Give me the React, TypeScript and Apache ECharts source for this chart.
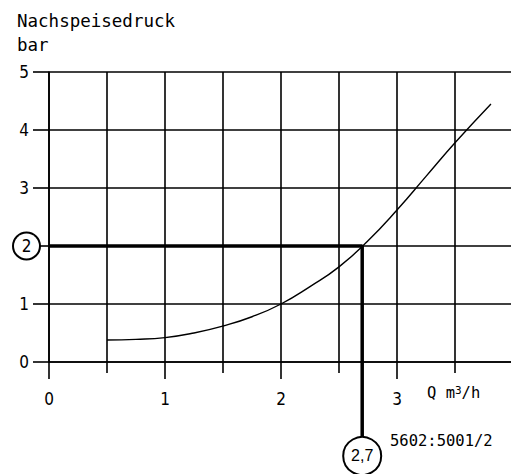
import React, { useEffect, useRef } from "react";
import * as echarts from "echarts";

// Curve: Nachspeisedruck (bar) over flow Q (m³/h)
const flowQ = [0.5, 0.75, 1, 1.25, 1.5, 1.75, 2, 2.25, 2.5, 2.75, 3, 3.25, 3.5, 3.81];
const pressure = [0.38, 0.39, 0.42, 0.5, 0.62, 0.78, 1.0, 1.3, 1.64, 2.09, 2.62, 3.2, 3.78, 4.45];

// Operating point
const opQ = 2.7;
const opP = 2;
const opLabel = "2,7";
const opCircleP = -1.62; // level of the "2,7" marker below the axis
const opStartQ = 0;

const xTicks = [0, 4];
const xLabelsShown = [0, 1, 2, 3];
const yTicks = [0, 5];
const titleLines = ["Nachspeisedruck", "bar"];
const drawingNo = "5602:5001/2";

const tickFont = "'Liberation Sans Narrow', 'DejaVu Sans Condensed', sans-serif";
const monoFont = "'DejaVu Sans Mono', monospace";

export default function App() {
  const ref = useRef<HTMLDivElement>(null);
  useEffect(() => {
    if (!ref.current) return;
    const chart = echarts.init(ref.current, null, { renderer: "svg" });
    const lineStyle = { color: "#000", width: 1.6 };
    chart.setOption({
      animation: false,
      backgroundColor: "#fff",
      grid: { left: 49, right: 7, top: 72, bottom: 112 },
      xAxis: {
        type: "value",
        min: xTicks[0],
        max: xTicks[1],
        interval: 1,
        axisLine: { show: true, lineStyle },
        axisTick: { show: true, length: 17, lineStyle },
        minorTick: { show: true, splitNumber: 2, length: 11, lineStyle },
        splitLine: { show: true, lineStyle },
        minorSplitLine: { show: true, lineStyle },
        axisLabel: {
          margin: 28,
          color: "#000",
          fontFamily: tickFont,
          fontSize: 17,
          formatter: (v: number) => (xLabelsShown.includes(v) ? String(v) : ""),
        },
      },
      yAxis: {
        type: "value",
        min: yTicks[0],
        max: yTicks[1],
        interval: 1,
        axisLine: { show: true, lineStyle },
        axisTick: { show: true, length: 16, lineStyle },
        splitLine: { show: true, lineStyle },
        axisLabel: {
          margin: 10,
          color: "#000",
          fontFamily: tickFont,
          fontSize: 17,
          formatter: (v: number) => (v === opP ? `{c|${v}}` : `{n|${v}}`),
          rich: {
            n: { padding: [0, 10, 0, 0], fontFamily: tickFont, fontSize: 17, color: "#000" },
            c: {
              width: 25,
              height: 25,
              align: "center",
              borderRadius: 15,
              borderWidth: 2,
              borderColor: "#000",
              backgroundColor: "#fff",
              fontFamily: tickFont,
              fontSize: 17,
              color: "#000",
            },
          },
        },
      },
      series: [
        {
          type: "line",
          data: flowQ.map((q, i) => [q, pressure[i]]),
          smooth: 0.5,
          showSymbol: false,
          lineStyle: { color: "#000", width: 1.4 },
          z: 3,
        },
        {
          type: "line",
          data: [
            [opStartQ, opP],
            [opQ, opP],
            [opQ, opCircleP],
          ],
          showSymbol: false,
          clip: false,
          lineStyle: { color: "#000", width: 3.5 },
          z: 4,
        },
        {
          type: "scatter",
          data: [[opQ, opCircleP]],
          clip: false,
          symbol: "circle",
          symbolSize: 38,
          itemStyle: { color: "#fff", borderColor: "#000", borderWidth: 2, opacity: 1 },
          label: {
            show: true,
            position: "inside",
            formatter: opLabel,
            color: "#000",
            fontFamily: "'Liberation Sans', Arial, sans-serif",
            fontSize: 16,
          },
          z: 5,
        },
      ],
      graphic: [
        {
          type: "text",
          left: 17,
          top: 9,
          style: {
            text: titleLines.join("\n"),
            fill: "#000",
            font: `17.5px ${monoFont}`,
            lineHeight: 24,
          },
        },
        {
          type: "text",
          x: 427,
          y: 393,
          style: {
            text: "{a|Q m}{s|3}{a|/h}",
            verticalAlign: "middle",
            rich: {
              a: { fontFamily: monoFont, fontSize: 15.5, color: "#000" },
              s: { fontFamily: monoFont, fontSize: 11, color: "#000", verticalAlign: "top" },
            },
          },
        },
        {
          type: "text",
          x: 390,
          y: 441,
          style: {
            text: drawingNo,
            verticalAlign: "middle",
            fill: "#000",
            font: `15.5px ${monoFont}`,
          },
        },
      ],
    });
    return () => chart.dispose();
  }, []);
  return (
    <div
      style={{
        position: "absolute",
        left: 0,
        top: 0,
        width: 511,
        height: 474,
        overflow: "hidden",
        background: "#fff",
      }}
    >
      <div ref={ref} style={{ width: 520, height: 474 }} />
    </div>
  );
}
